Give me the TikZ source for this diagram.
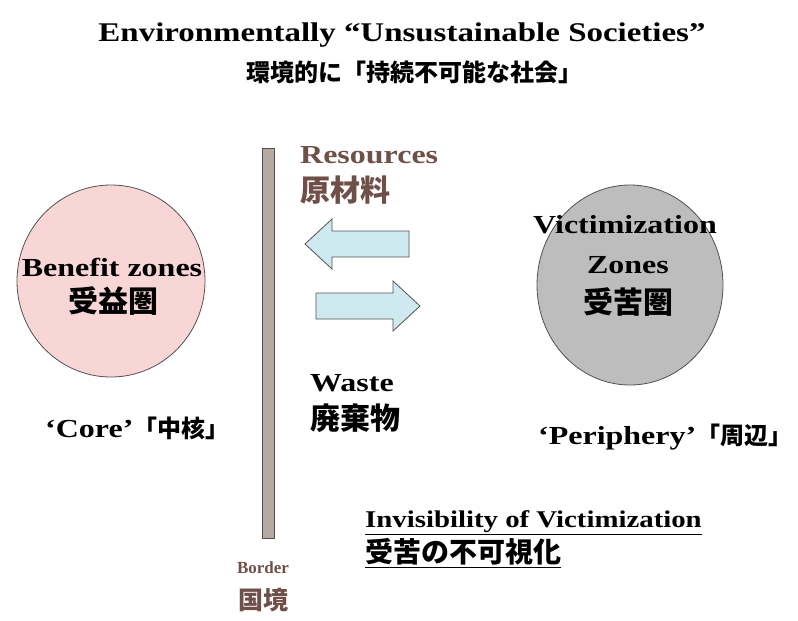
\documentclass[tikz,border=0pt]{standalone}
\usepackage{fontspec}
\setmainfont{Liberation Serif}
\newfontfamily\jp{Noto Sans CJK JP}
\definecolor{pinkfill}{HTML}{F8D6D6}
\definecolor{grayfill}{HTML}{BDBDBD}
\definecolor{barfill}{HTML}{B5AAA2}
\definecolor{arrowfill}{HTML}{CFE9F1}
\definecolor{brownt}{HTML}{6E5048}
\definecolor{edge}{HTML}{555050}
\newcommand{\wide}[1]{\scalebox{1.23}[1]{#1}}
\tikzset{
  lbl/.style={inner sep=0pt, font=\bfseries\fontsize{26}{30}\selectfont},
  jlbl/.style={inner sep=0pt, font=\jp\bfseries\fontsize{30}{34}\selectfont},
  zone/.style={ellipse, draw=edge, line width=0.8pt},
  flow/.style={draw=edge, line width=0.8pt, fill=arrowfill},
}
\usetikzlibrary{shapes.geometric}
\begin{document}
\begin{tikzpicture}[x=1pt,y=-1pt]
\useasboundingbox (0,0) rectangle (798,621);
% title
\node[inner sep=0pt, font=\bfseries\fontsize{27}{30}\selectfont] (t1) at (402,35) {\scalebox{1.22}[1]{Environmentally “Unsustainable Societies”}};
\node[jlbl, font=\jp\bfseries\fontsize{24}{28}\selectfont] (t2) at (414,72) {環境的に「持続不可能な社会」};
% zones
\node[zone, fill=pinkfill, minimum width=188pt, minimum height=192pt] (benefit) at (111,281) {};
\node[lbl] (bz1) at (112,267) {\wide{Benefit zones}};
\node[jlbl] (bz2) at (113,301) {受益圏};
\node[zone, fill=grayfill, minimum width=186pt, minimum height=200pt] (victim) at (630,285) {};
\node[lbl] (vz1) at (625,225) {\wide{Victimization}};
\node[lbl] (vz2) at (628,265) {\wide{Zones}};
\node[jlbl] (vz3) at (628,302) {受苦圏};
% border bar
\node[draw=edge, fill=barfill, line width=0.8pt, minimum width=12pt, minimum height=390pt, inner sep=0pt] (bar) at (268,343) {};
% resources
\node[lbl, text=brownt, anchor=west] (res1) at (300,155) {\wide{Resources}};
\node[jlbl, text=brownt, anchor=west] (res2) at (300,190) {原材料};
% arrows
\draw[flow] (305,244) -- (332,219) -- (332,231) -- (409,231) -- (409,257) -- (332,257) -- (332,269) -- cycle;
\draw[flow] (420,306) -- (393,281) -- (393,293) -- (316,293) -- (316,319) -- (393,319) -- (393,331) -- cycle;
% waste
\node[lbl, anchor=west] (w1) at (310,383) {\wide{Waste}};
\node[jlbl, anchor=west] (w2) at (310,418) {廃棄物};
% core / periphery
\node[lbl, anchor=west] (core) at (45,428) {\wide{‘Core’}{\jp\fontsize{24}{28}\selectfont「中核」}};
\node[lbl, anchor=west] (peri) at (538,437) {\wide{‘Periphery’}{\jp\fontsize{24}{28}\selectfont「周辺」}};
% invisibility
\node[inner sep=0pt, font=\bfseries\fontsize{24}{28}\selectfont, anchor=west] (inv1) at (365,523) {\underline{\scalebox{1.2}[1]{Invisibility of Victimization}}};
\node[inner sep=0pt, font=\jp\bfseries\fontsize{28}{32}\selectfont, anchor=west] (inv2) at (365,553) {\underline{受苦の不可視化}};
% border label
\node[inner sep=0pt, font=\bfseries\fontsize{17}{20}\selectfont, text=brownt] (b1) at (263,568) {Border};
\node[inner sep=0pt, font=\jp\bfseries\fontsize{25}{28}\selectfont, text=brownt] (b2) at (263,600) {国境};
\end{tikzpicture}
\end{document}
